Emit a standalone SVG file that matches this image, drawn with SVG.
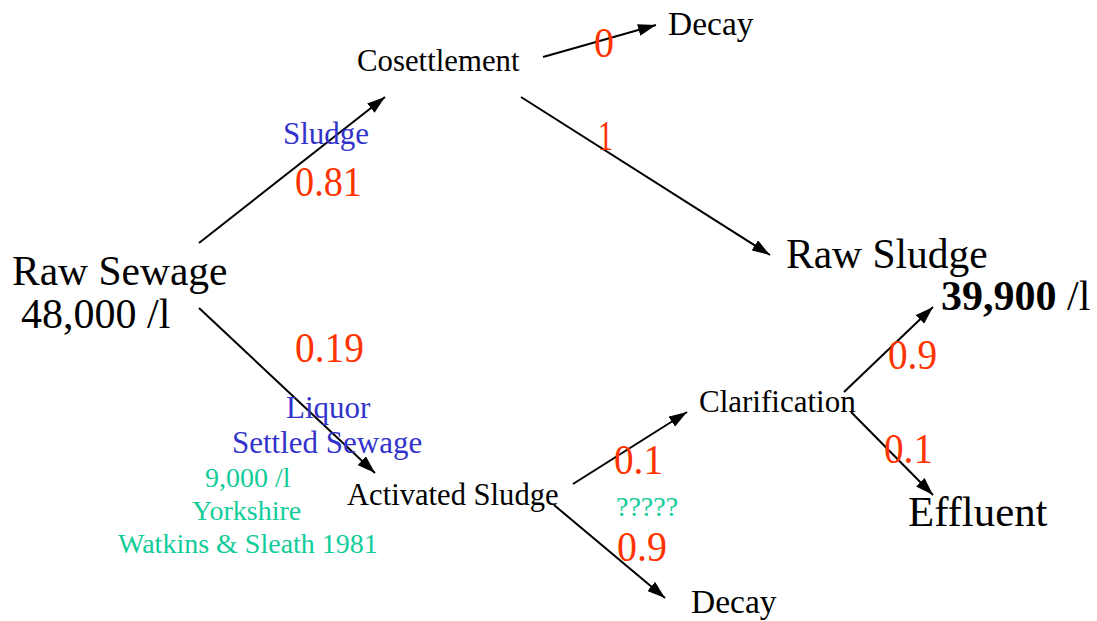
<svg xmlns="http://www.w3.org/2000/svg" width="1097" height="621" viewBox="0 0 1097 621">
<style>
text{font-family:"Liberation Serif","Times New Roman",serif}
.n{fill:#000}
.r{fill:#FF3300;font-size:42px}
.b{fill:#3333CC;font-size:31px}
.g{fill:#11CC99;font-size:28px}
.c{stroke:#000;stroke-width:2;fill:none;marker-end:url(#ah)}
</style>
<defs>
<marker id="ah" viewBox="0 0 18 12" refX="18" refY="6" markerWidth="18" markerHeight="12" markerUnits="userSpaceOnUse" orient="auto">
<path d="M0,0 L18,6 L0,12 z" fill="#000"/>
</marker>
</defs>
<rect width="1097" height="621" fill="#fff"/>
<g id="connectors">
<line class="c" x1="199" y1="243" x2="385" y2="97"/>
<line class="c" x1="543" y1="57" x2="656" y2="25"/>
<line class="c" x1="521" y1="97" x2="770" y2="255"/>
<line class="c" x1="199" y1="308" x2="375" y2="473"/>
<line class="c" x1="573" y1="484" x2="687" y2="412"/>
<line class="c" x1="554" y1="505" x2="665" y2="598"/>
<line class="c" x1="844" y1="392" x2="933" y2="307"/>
<line class="c" x1="851" y1="412" x2="933" y2="495"/>
</g>
<g id="labels">
<text class="b" x="283" y="144">Sludge</text>
<text class="r" x="295" y="196" textLength="67" lengthAdjust="spacingAndGlyphs">0.81</text>
<text class="r" x="594" y="57" textLength="20" lengthAdjust="spacingAndGlyphs">0</text>
<text class="r" x="598" y="150" textLength="15" lengthAdjust="spacingAndGlyphs">1</text>
<text class="r" x="295" y="362" textLength="69" lengthAdjust="spacingAndGlyphs">0.19</text>
<text class="b" x="286" y="418">Liquor</text>
<text class="b" x="232" y="453">Settled Sewage</text>
<text class="g" x="205" y="487">9,000 /l</text>
<text class="g" x="192" y="520">Yorkshire</text>
<text class="g" x="118" y="553">Watkins &amp; Sleath 1981</text>
<text class="r" x="614" y="474" textLength="49" lengthAdjust="spacingAndGlyphs">0.1</text>
<text class="g" x="616" y="516" font-size="27">?????</text>
<text class="r" x="617" y="561" textLength="50" lengthAdjust="spacingAndGlyphs">0.9</text>
<text class="r" x="888" y="369" textLength="49" lengthAdjust="spacingAndGlyphs">0.9</text>
<text class="r" x="884" y="463" textLength="49" lengthAdjust="spacingAndGlyphs">0.1</text>
</g>
<g id="raw-sewage"><text class="n" x="12" y="285" font-size="41.5">Raw Sewage</text><text class="n" x="21" y="328" font-size="42">48,000 /l</text></g>
<g id="cosettlement"><text class="n" x="357" y="71" font-size="30.8">Cosettlement</text></g>
<g id="decay-top"><text class="n" x="668" y="35" font-size="33.5">Decay</text></g>
<g id="raw-sludge"><text class="n" x="786" y="268" font-size="41.5">Raw Sludge</text><text class="n" x="941" y="310" font-size="42"><tspan font-weight="bold">39,900</tspan> /l</text></g>
<g id="activated-sludge"><text class="n" x="347" y="505" font-size="30.6">Activated Sludge</text></g>
<g id="clarification"><text class="n" x="699" y="412" font-size="31">Clarification</text></g>
<g id="decay-bottom"><text class="n" x="691" y="613" font-size="33.5">Decay</text></g>
<g id="effluent"><text class="n" x="908" y="526" font-size="42.8">Effluent</text></g>
</svg>
